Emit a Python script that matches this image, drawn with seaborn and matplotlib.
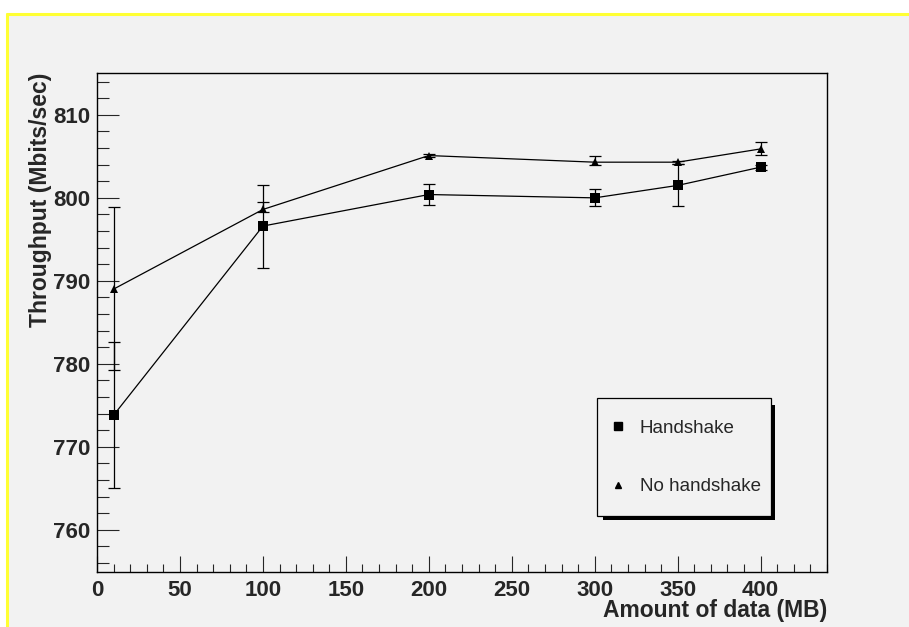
import seaborn as sns
import pandas as pd
import matplotlib.pyplot as plt
from matplotlib.patches import Rectangle
from matplotlib.lines import Line2D
from matplotlib.ticker import MultipleLocator

###################
# Data
amount_mb = [10, 100, 200, 300, 350, 400]
series_names = ["Handshake", "No handshake"]

handshake = [773.8, 796.6, 800.4, 800.0, 801.5, 803.7]
handshake_err_lo = [8.8, 5.0, 1.3, 1.0, 2.5, 0.3]
handshake_err_hi = [8.8, 4.9, 1.3, 1.1, 2.6, 0.3]

no_handshake = [789.0, 798.6, 805.1, 804.3, 804.3, 805.9]
no_handshake_err_lo = [9.8, 0.3, 0.2, 0.4, 0.2, 0.7]
no_handshake_err_hi = [9.9, 0.85, 0.2, 0.8, 0.2, 0.85]

data = pd.DataFrame({
    "Amount": amount_mb * 2,
    "Throughput": handshake + no_handshake,
    "Series": [series_names[0]] * len(amount_mb) + [series_names[1]] * len(amount_mb),
})

###################
# Setup
sns.set_style("ticks")
plt.rcParams["font.family"] = ["Liberation Sans", "DejaVu Sans"]
plt.rcParams["font.weight"] = "bold"

W, H = 909, 627
fig = plt.figure(figsize=(W / 100, H / 100), dpi=100)
fig.patch.set_facecolor("white")

# grey canvas with yellow top/left border
fig.patches.append(Rectangle((6.5 / W, 0), 1, 1 - 13.5 / H, transform=fig.transFigure,
                             facecolor="#f2f2f2", edgecolor="none", zorder=-10))
fig.add_artist(Line2D([6.5 / W, 6.5 / W], [0, 1 - 13.5 / H], transform=fig.transFigure,
                      color="#ffff33", lw=2.2))
fig.add_artist(Line2D([6.5 / W, 1], [1 - 13.5 / H, 1 - 13.5 / H], transform=fig.transFigure,
                      color="#ffff33", lw=2.2))

ax = fig.add_axes([97 / W, 55 / H, 730 / W, 499 / H])
ax.patch.set_alpha(0)

###################
# Lines
styles = {"Handshake": ("s", 6.8), "No handshake": ("^", 5.6)}
errs = {"Handshake": (handshake, handshake_err_lo, handshake_err_hi),
        "No handshake": (no_handshake, no_handshake_err_lo, no_handshake_err_hi)}

for name in series_names:
    marker, ms = styles[name]
    vals, lo, hi = errs[name]
    ax.errorbar(amount_mb, vals, yerr=[lo, hi], fmt="none", ecolor="black",
                elinewidth=0.9, capsize=4, capthick=0.9, zorder=2)
    sns.lineplot(data[data["Series"] == name], x="Amount", y="Throughput", ax=ax,
                 color="black", lw=0.9, marker=marker, markersize=ms,
                 mec="black", mew=0, errorbar=None, zorder=3)

###################
# Axes
ax.set_xlim(0, 440)
ax.set_ylim(754.9, 815.05)
ax.xaxis.set_major_locator(MultipleLocator(50))
ax.xaxis.set_minor_locator(MultipleLocator(10))
ax.yaxis.set_major_locator(MultipleLocator(10))
ax.yaxis.set_minor_locator(MultipleLocator(2))

ax.tick_params(axis="x", which="major", direction="in", length=11.5, width=0.8, labelsize=16, pad=5.5)
ax.tick_params(axis="x", which="minor", direction="in", length=5.8, width=0.8)
ax.tick_params(axis="y", which="major", direction="in", length=15.8, width=0.8, labelsize=16, pad=4.5)
ax.tick_params(axis="y", which="minor", direction="in", length=8.6, width=0.8)

for spine in ax.spines.values():
    spine.set_color("black")
    spine.set_linewidth(1.0)

ax.set_xlabel("Amount of data (MB)", fontsize=16.5, fontweight="bold", loc="right")
ax.xaxis.set_label_coords(1.0, -0.054)
ax.set_ylabel("Throughput (Mbits/sec)", fontsize=16.5, fontweight="bold", loc="top")
ax.yaxis.set_label_coords(-0.062, 1.0)

###################
# Legend with hard shadow
ax.add_patch(Rectangle((0.6932, 0.1042), 0.2356, 0.2305, transform=ax.transAxes,
                       facecolor="black", edgecolor="none", zorder=5))
ax.add_patch(Rectangle((0.6849, 0.1122), 0.2384, 0.2365, transform=ax.transAxes,
                       facecolor="#f2f2f2", edgecolor="black", lw=0.9, zorder=6))
handles = [Line2D([], [], ls="none", marker="s", ms=5.5, color="black"),
           Line2D([], [], ls="none", marker="^", ms=5.0, color="black")]
leg = ax.legend(handles, series_names, loc="center left", bbox_to_anchor=(0.7008, 0.2295),
                frameon=False, borderpad=0, borderaxespad=0, handlelength=1.0,
                handletextpad=0.67, labelspacing=2.2,
                prop={"size": 13.5, "weight": "normal"})
leg.set_zorder(7)

###################
# Export
fig.savefig("out.png", dpi=100)
